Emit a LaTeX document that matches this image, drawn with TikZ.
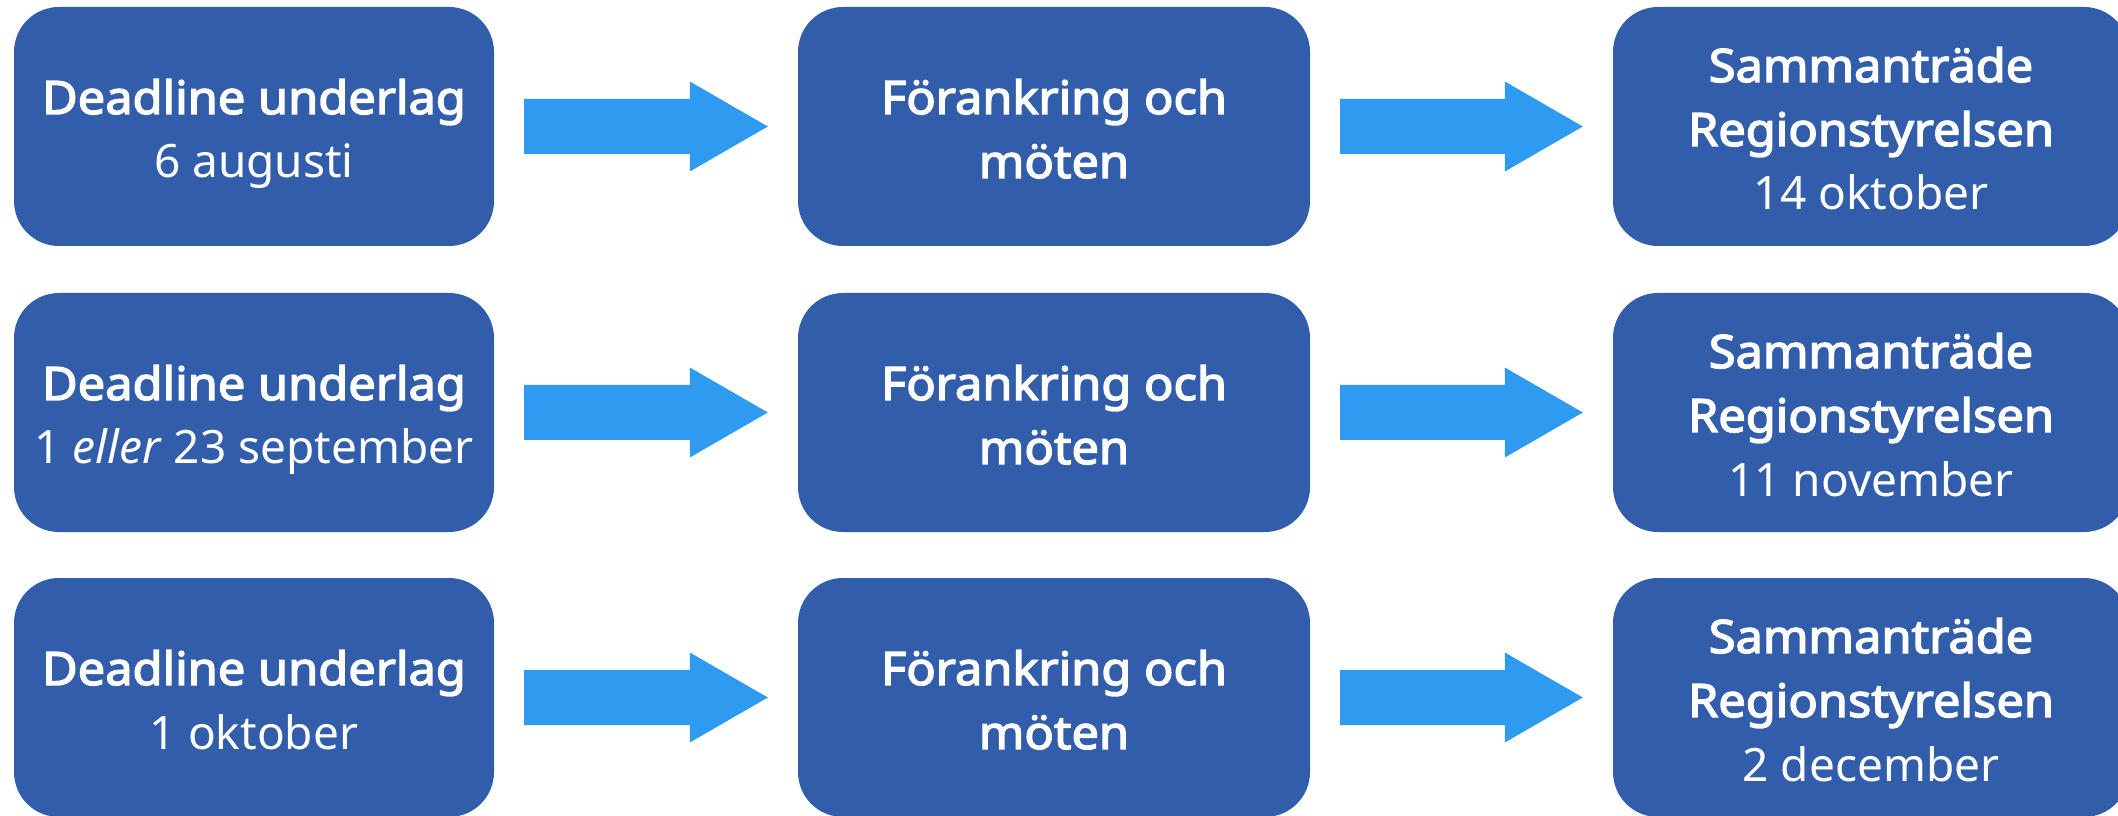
\documentclass[tikz,border=0pt]{standalone}
\usepackage{fontspec}
\setmainfont{Noto Sans}[BoldFont={Noto Sans}, BoldFeatures={FakeBold=3, FakeStretch=1.06}]
\usetikzlibrary{calc}

\definecolor{boxblue}{RGB}{49,93,171}
\definecolor{arrowblue}{RGB}{46,155,240}

\newcommand{\topstrut}{\rule{0pt}{51pt}}
\newcommand{\bottomstrut}{\rule[-12pt]{0pt}{12pt}}

\tikzset{
  stagebox/.style={fill=boxblue, text=white, rounded corners=45pt, minimum height=239pt,
    align=center, inner sep=0pt, font={\fontsize{46pt}{64pt}\selectfont},
    execute at end node=\bottomstrut},
  flowarrow/.style={fill=arrowblue}
}

\newcommand{\blockarrow}[2]{%
  \fill[flowarrow] ($(#1.east)+(30pt,27.5pt)$)-- ($(#2.west)+(-108pt,27.5pt)$)-- ++(0,17.5pt)
    -- ($(#2.west)+(-30pt,0)$)-- ($(#2.west)+(-108pt,-45pt)$)-- ++(0,17.5pt)
    -- ($(#1.east)+(30pt,-27.5pt)$)--cycle;}

\begin{document}
\begin{tikzpicture}[x=1pt,y=1pt]
  \useasboundingbox (0,0) rectangle (2118,815);

  \node[stagebox, minimum width=480pt] (dl1) at (254,688.5) {\topstrut\textbf{Deadline underlag}\\6 augusti};
  \node[stagebox, minimum width=512pt] (fm1) at (1054,688.5) {\topstrut\textbf{Förankring och}\\\textbf{möten}};
  \node[stagebox, minimum width=516pt] (rs1) at (1871,688.5) {\topstrut\textbf{Sammanträde}\\\textbf{Regionstyrelsen}\\14 oktober};

  \node[stagebox, minimum width=480pt] (dl2) at (254,402.5) {\topstrut\textbf{Deadline underlag}\\1 \textit{eller} 23 september};
  \node[stagebox, minimum width=512pt] (fm2) at (1054,402.5) {\topstrut\textbf{Förankring och}\\\textbf{möten}};
  \node[stagebox, minimum width=516pt] (rs2) at (1871,402.5) {\topstrut\textbf{Sammanträde}\\\textbf{Regionstyrelsen}\\11 november};

  \node[stagebox, minimum width=480pt] (dl3) at (254,117.5) {\topstrut\textbf{Deadline underlag}\\1 oktober};
  \node[stagebox, minimum width=512pt] (fm3) at (1054,117.5) {\topstrut\textbf{Förankring och}\\\textbf{möten}};
  \node[stagebox, minimum width=516pt] (rs3) at (1871,117.5) {\topstrut\textbf{Sammanträde}\\\textbf{Regionstyrelsen}\\2 december};

  \foreach \r in {1,2,3}{
    \blockarrow{dl\r}{fm\r}
    \blockarrow{fm\r}{rs\r}
  }
\end{tikzpicture}
\end{document}
